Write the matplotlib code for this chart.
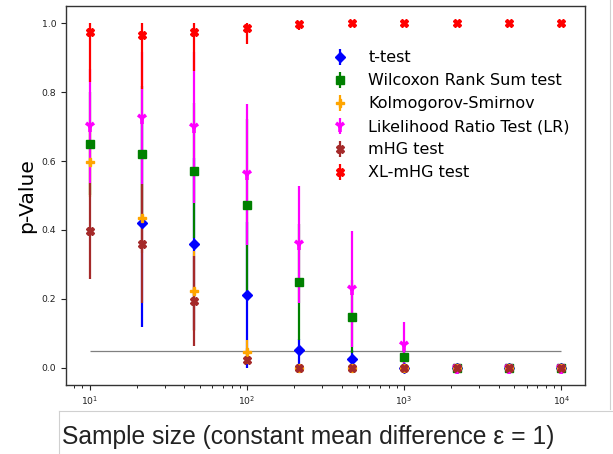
import numpy as np
import matplotlib
matplotlib.use('Agg')
import matplotlib.pyplot as plt
from matplotlib.lines import Line2D

nan = np.nan

# ---------------- data ----------------
sample_sizes = [10, 21.5, 46.4, 100, 215, 464, 1000, 2154, 4642, 10000]

ttest_val = [nan, 0.419, 0.360, 0.211, 0.053, 0.026, 0.0, 0.0, 0.0, 0.0]
ttest_lo  = [0.0, 0.300, 0.250, 0.211, 0.050, 0.025, 0.0, 0.0, 0.0, 0.0]
ttest_hi  = [0.0, 0.300, 0.250, 0.211, 0.030, 0.025, 0.0, 0.0, 0.0, 0.0]

wilc_val = [0.650, 0.619, 0.572, 0.472, 0.249, 0.148, 0.031, 0.0, 0.0, 0.0]
wilc_lo  = [0.150, 0.200, 0.196, 0.250, 0.167, 0.106, 0.030, 0.0, 0.0, 0.0]
wilc_hi  = [0.150, 0.200, 0.196, 0.250, 0.167, 0.106, 0.030, 0.0, 0.0, 0.0]

ks_val = [0.596, 0.434, 0.222, 0.047, 0.0, 0.0, 0.0, 0.0, 0.0, 0.0]
ks_lo  = [0.100, 0.100, 0.116, 0.035, 0.0, 0.0, 0.0, 0.0, 0.0, 0.0]
ks_hi  = [0.100, 0.100, 0.116, 0.035, 0.0, 0.0, 0.0, 0.0, 0.0, 0.0]

lr_val = [0.702, 0.724, 0.698, 0.561, 0.358, 0.229, 0.066, 0.0, 0.0, 0.0]
lr_lo  = [0.165, 0.192, 0.219, 0.206, 0.169, 0.168, 0.066, 0.0, 0.0, 0.0]
lr_hi  = [0.165, 0.192, 0.219, 0.206, 0.169, 0.168, 0.067, 0.0, 0.0, 0.0]

mhg_val = [0.397, 0.360, 0.194, 0.024, 0.0, 0.0, 0.0, 0.0, 0.0, 0.0]
mhg_lo  = [0.140, 0.172, 0.130, 0.010, 0.0, 0.0, 0.0, 0.0, 0.0, 0.0]
mhg_hi  = [0.140, 0.172, 0.130, 0.010, 0.0, 0.0, 0.0, 0.0, 0.0, 0.0]

xl_val = [0.975, 0.965, 0.975, 0.987, 0.997, 1.0, 1.0, 1.0, 1.0, 1.0]
xl_lo  = [0.145, 0.157, 0.115, 0.046, 0.017, 0.0, 0.0, 0.0, 0.0, 0.0]
xl_hi  = [0.025, 0.035, 0.025, 0.013, 0.003, 0.0, 0.0, 0.0, 0.0, 0.0]

threshold = 0.05

series = [
    ("t-test", ttest_val, ttest_lo, ttest_hi, "blue", "D"),
    ("Wilcoxon Rank Sum test", wilc_val, wilc_lo, wilc_hi, "green", "s"),
    ("Kolmogorov-Smirnov", ks_val, ks_lo, ks_hi, "orange", "P"),
    ("Likelihood Ratio Test (LR)", lr_val, lr_lo, lr_hi, "magenta", "1"),
    ("mHG test", mhg_val, mhg_lo, mhg_hi, "brown", "X"),
    ("XL-mHG test", xl_val, xl_lo, xl_hi, "red", "X"),
]

# ---------------- figure ----------------
W, H = 613, 454
fig = plt.figure(figsize=(W / 100, H / 100), dpi=100)
ax = fig.add_axes([66 / W, 1 - 385 / H, (585 - 66) / W, (385 - 6) / H])

ax.hlines(threshold, sample_sizes[0], sample_sizes[-1], color='gray', lw=0.9)

for label, val, lo, hi, col, mk in series:
    ms = 5.4
    mew = 1.0
    if mk == '1':
        ms, mew = 8, 2.6
    ax.errorbar(sample_sizes, val, yerr=[lo, hi], fmt=mk, color=col,
                ms=ms, mew=mew, elinewidth=1.6, capsize=0, label=label)

ax.set_xscale('log')
ax.set_yticks([0.0, 0.2, 0.4, 0.6, 0.8, 1.0])
ax.tick_params(labelsize=6.7, colors='#222222')
for s in ax.spines.values():
    s.set_color('#333333')
    s.set_linewidth(1.0)
ax.set_ylabel('p-Value', fontsize=14.6, labelpad=4)

leg = ax.legend(loc='upper left', bbox_to_anchor=(310 / W, 1 - 36 / H),
                bbox_transform=fig.transFigure, frameon=False,
                fontsize=11.5, labelspacing=0.5, handletextpad=0.75)

# external label box (screenshot composite)
fig.add_artist(Line2D([610 / W, 610 / W], [1, 1 - 409 / H],
                      transform=fig.transFigure, color='#d0d0d0', lw=0.8))
fig.add_artist(Line2D([59 / W, 1], [1 - 411 / H, 1 - 411 / H],
                      transform=fig.transFigure, color='#d0d0d0', lw=0.8))
fig.add_artist(Line2D([59 / W, 59 / W], [1 - 411 / H, 0],
                      transform=fig.transFigure, color='#d0d0d0', lw=0.8))
fig.text(62 / W, 10 / H, 'Sample size (constant mean difference ε = 1)',
         family=['Liberation Sans', 'DejaVu Sans'], fontsize=17.7,
         color='#222222', ha='left', va='baseline')

fig.savefig('out.png', dpi=100)
